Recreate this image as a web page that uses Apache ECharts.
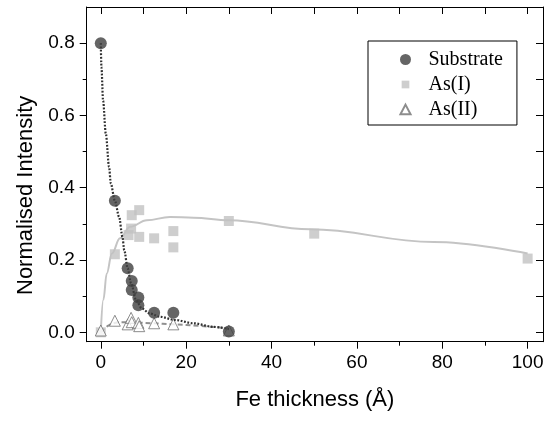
<!DOCTYPE html>
<html><head><meta charset="utf-8">
<script src="https://cdn.jsdelivr.net/npm/echarts@6/dist/echarts.min.js"></script>
<style>html,body{margin:0;padding:0;background:#fff}#c{width:549px;height:421px}</style>
</head><body><div id="c"></div>
<script>
// Measured data
const substrateX = [0, 3.3, 6.3, 7.25, 7.25, 8.8, 8.8, 12.5, 17, 30];
const substrateY = [0.80, 0.364, 0.177, 0.142, 0.117, 0.096, 0.075, 0.054, 0.054, 0.002];
const as1X = [0, 3.3, 6.5, 7.1, 7.25, 9.0, 9.0, 12.5, 17, 17, 30, 50, 100];
const as1Y = [0, 0.216, 0.269, 0.287, 0.324, 0.338, 0.264, 0.26, 0.28, 0.235, 0.308, 0.273, 0.204];
const as2X = [0, 3.3, 6.3, 7.1, 7.25, 8.8, 9.0, 12.5, 17, 30];
const as2Y = [0.005, 0.032, 0.022, 0.04, 0.028, 0.026, 0.017, 0.025, 0.022, 0.005];
// Fit curves
const substrateFitX = [0, 0.15, 0.54, 1.17, 1.95, 2.34, 3.3, 4.3, 5.07, 5.5, 6.3, 7.1, 8.27, 9.6, 11.5, 13.9, 17.4, 21.7, 26.4, 30];
const substrateFitY = [0.80, 0.734, 0.641, 0.55, 0.457, 0.412, 0.364, 0.319, 0.264, 0.227, 0.177, 0.135, 0.089, 0.066, 0.052, 0.043, 0.034, 0.025, 0.015, 0.009];
const as1FitX = [0, 0.6, 1.4, 2.6, 4.5, 6.9, 10.8, 16.2, 21.7, 30, 49, 78, 100];
const as1FitY = [0, 0.09, 0.163, 0.218, 0.26, 0.292, 0.31, 0.319, 0.317, 0.31, 0.285, 0.25, 0.218];
const as2FitX = [0, 1, 2, 3.3, 5, 8, 12, 17, 23, 27, 30];
const as2FitY = [0, 0.012, 0.02, 0.026, 0.028, 0.027, 0.025, 0.022, 0.018, 0.014, 0.011];
// Ticks
const xTicks = [0, 20, 40, 60, 80, 100];
const xMinor = [10, 30, 50, 70, 90];
const xAll = [0, 10, 20, 30, 40, 50, 60, 70, 80, 90, 100];
const yTicks = [0, 0.2, 0.4, 0.6, 0.8];
const yMinor = [0.1, 0.3, 0.5, 0.7];
const yAll = [0, 0.1, 0.2, 0.3, 0.4, 0.5, 0.6, 0.7, 0.8];

const zip = (a, b) => a.map((v, i) => [v, b[i]]);
const X_MIN = -3.3, X_MAX = 103.6, Y_MIN = -0.026, Y_MAX = 0.9;
const gridBox = {left: 86.7, right: 6, top: 7, bottom: 79.3};
const sans = 'Liberation Sans, Arial, sans-serif';
const lineBlack = {show: true, onZero: false, lineStyle: {color: '#000', width: 1}};
const noLine = {show: false, onZero: false};

const chart = echarts.init(document.getElementById('c'));
chart.setOption({
  animation: false,
  backgroundColor: '#fff',
  grid: [Object.assign({}, gridBox), Object.assign({}, gridBox)],
  xAxis: [
    {type: 'value', gridIndex: 0, position: 'bottom', min: X_MIN, max: X_MAX,
     axisLine: lineBlack, splitLine: {show: false},
     axisTick: {show: true, inside: false, length: 7, customValues: xTicks, lineStyle: {color: '#000'}},
     axisLabel: {customValues: xTicks, margin: 12, fontSize: 19, fontFamily: sans, color: '#000'},
     name: 'Fe thickness (Å)', nameLocation: 'middle', nameGap: 47,
     nameTextStyle: {fontSize: 22, fontFamily: sans, color: '#000'}},
    {type: 'value', gridIndex: 0, position: 'top', min: X_MIN, max: X_MAX,
     axisLine: lineBlack, splitLine: {show: false},
     axisTick: {show: true, inside: true, length: 7, customValues: xAll, lineStyle: {color: '#000'}},
     axisLabel: {show: false}},
    {type: 'value', gridIndex: 1, position: 'bottom', min: X_MIN, max: X_MAX,
     axisLine: noLine, splitLine: {show: false},
     axisTick: {show: true, inside: false, length: 4, customValues: xMinor, lineStyle: {color: '#000'}},
     axisLabel: {show: false}}
  ],
  yAxis: [
    {type: 'value', gridIndex: 0, position: 'left', min: Y_MIN, max: Y_MAX,
     axisLine: lineBlack, splitLine: {show: false},
     axisTick: {show: true, inside: false, length: 7, customValues: yTicks, lineStyle: {color: '#000'}},
     axisLabel: {customValues: yTicks, margin: 12, fontSize: 19, fontFamily: sans, color: '#000',
                 formatter: v => v.toFixed(1)},
     name: 'Normalised Intensity', nameLocation: 'middle', nameGap: 50,
     nameTextStyle: {fontSize: 22, fontFamily: sans, color: '#000', padding: [0, 42, 0, 0]}},
    {type: 'value', gridIndex: 0, position: 'right', min: Y_MIN, max: Y_MAX,
     axisLine: lineBlack, splitLine: {show: false},
     axisTick: {show: true, inside: true, length: 7, customValues: yAll, lineStyle: {color: '#000'}},
     axisLabel: {show: false}},
    {type: 'value', gridIndex: 1, position: 'left', min: Y_MIN, max: Y_MAX,
     axisLine: noLine, splitLine: {show: false},
     axisTick: {show: true, inside: false, length: 4, customValues: yMinor, lineStyle: {color: '#000'}},
     axisLabel: {show: false}}
  ],
  legend: {
    data: [
      {name: 'Substrate', icon: 'circle'},
      {name: 'As(I)', icon: 'path://M0,0M10,10M1.5,1.5h7v7h-7z'},
      {name: 'As(II)', icon: 'path://M0,0M10,10M5,0.6L9.6,9.4L0.4,9.4Z'}
    ],
    orient: 'vertical', left: 368, top: 41,
    itemWidth: 36, itemHeight: 11, itemGap: 5,
    padding: [8.5, 14, 5.5, 31],
    borderColor: '#000', borderWidth: 1, borderRadius: 0,
    selectedMode: false,
    textStyle: {fontFamily: 'Liberation Serif, Times New Roman, serif', fontSize: 20, color: '#000'}
  },
  series: [
    {name: 'As(I) fit', type: 'line', data: zip(as1FitX, as1FitY), showSymbol: false, symbol: 'none',
     smooth: 0.4, smoothMonotone: 'x', lineStyle: {color: '#c4c4c4', width: 2}, z: 2, silent: true},
    {name: 'As(II) fit', type: 'line', data: zip(as2FitX, as2FitY), showSymbol: false, symbol: 'none',
     smooth: 0.4, lineStyle: {color: '#909090', width: 2, type: [5, 3]}, z: 2, silent: true},
    {name: 'As(I)', type: 'scatter', data: zip(as1X, as1Y), symbol: 'rect', symbolSize: 10,
     itemStyle: {color: '#c2c2c2'}, z: 3},
    {name: 'As(II)', type: 'scatter', data: zip(as2X, as2Y), symbol: 'triangle', symbolSize: 11,
     itemStyle: {color: '#ffffff', borderColor: '#707070', borderWidth: 1}, z: 4},
    {name: 'Substrate fit', type: 'line', data: zip(substrateFitX, substrateFitY), showSymbol: false, symbol: 'none',
     smooth: 0.3, smoothMonotone: 'x', lineStyle: {color: '#303030', width: 2.2, type: [1.8, 1.6]}, z: 5, silent: true},
    {name: 'Substrate', type: 'scatter', data: zip(substrateX, substrateY), symbol: 'circle', symbolSize: 12,
     itemStyle: {color: '#3e3e3e'}, z: 6}
  ]
});
</script></body></html>
